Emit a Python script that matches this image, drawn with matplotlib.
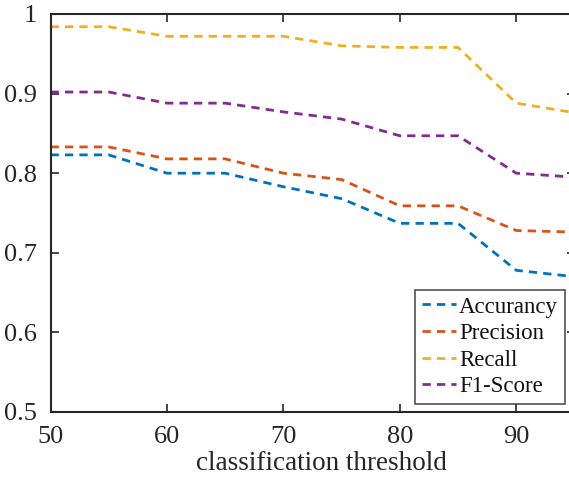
import numpy as np
import matplotlib
matplotlib.use("Agg")
import matplotlib.pyplot as plt

# classification threshold (x) and metric values
thresholds = [50, 55, 60, 65, 70, 75, 80, 85, 90, 95]
accuracy = [0.823, 0.823, 0.800, 0.800, 0.783, 0.768, 0.737, 0.737, 0.678, 0.670]
precision = [0.833, 0.833, 0.818, 0.818, 0.800, 0.792, 0.759, 0.759, 0.728, 0.726]
recall = [0.984, 0.984, 0.972, 0.972, 0.972, 0.960, 0.958, 0.958, 0.888, 0.876]
f1_score = [0.902, 0.902, 0.888, 0.888, 0.877, 0.868, 0.847, 0.847, 0.800, 0.795]
series_names = ['Accurancy', 'Precision', 'Recall', 'F1-Score']
colors = ['#0072BD', '#D95319', '#EDB120', '#7E2F8E']

plt.rcParams['font.family'] = ['Liberation Serif', 'DejaVu Serif']
axis_color = '#262626'

W, H = 569, 483
fig = plt.figure(figsize=(W / 100, H / 100), dpi=100)
# axes run past the right edge of the picture (the original was cropped)
ax = fig.add_axes([50.5 / W, 71 / H, 524 / W, 398 / H])

for vals, name, c in zip([accuracy, precision, recall, f1_score], series_names, colors):
    ax.plot(thresholds, vals, linestyle=(0, (3, 2.2)), color=c, lw=2.0, label=name)

ax.set_xlim(50, 95)
ax.set_ylim(0.5, 1.0)
ax.set_xticks([50, 60, 70, 80, 90])
ax.set_yticks([0.5, 0.6, 0.7, 0.8, 0.9, 1.0])
ax.set_yticklabels(['0.5', '0.6', '0.7', '0.8', '0.9', '1'])

for s in ax.spines.values():
    s.set_color(axis_color)
    s.set_linewidth(1.5)
ax.tick_params(direction='in', length=6, width=1.2, color=axis_color,
               labelcolor=axis_color, labelsize=19, top=True, right=True, pad=10)

ax.set_xlabel('classification threshold', fontsize=19.5, color=axis_color)
ax.xaxis.set_label_coords(0.518, -0.097)

leg = ax.legend(loc='lower left', bbox_to_anchor=((415 - 50.5) / 524, (412 - 404) / 398),
                fontsize=16.5, frameon=True, fancybox=False, handlelength=1.5,
                handletextpad=0.12, borderpad=0.3, labelspacing=0.24, borderaxespad=0)
leg.get_frame().set_edgecolor(axis_color)
leg.get_frame().set_linewidth(1.2)
for t in leg.get_texts():
    t.set_color('#111111')

fig.savefig('out.png', dpi=100)
